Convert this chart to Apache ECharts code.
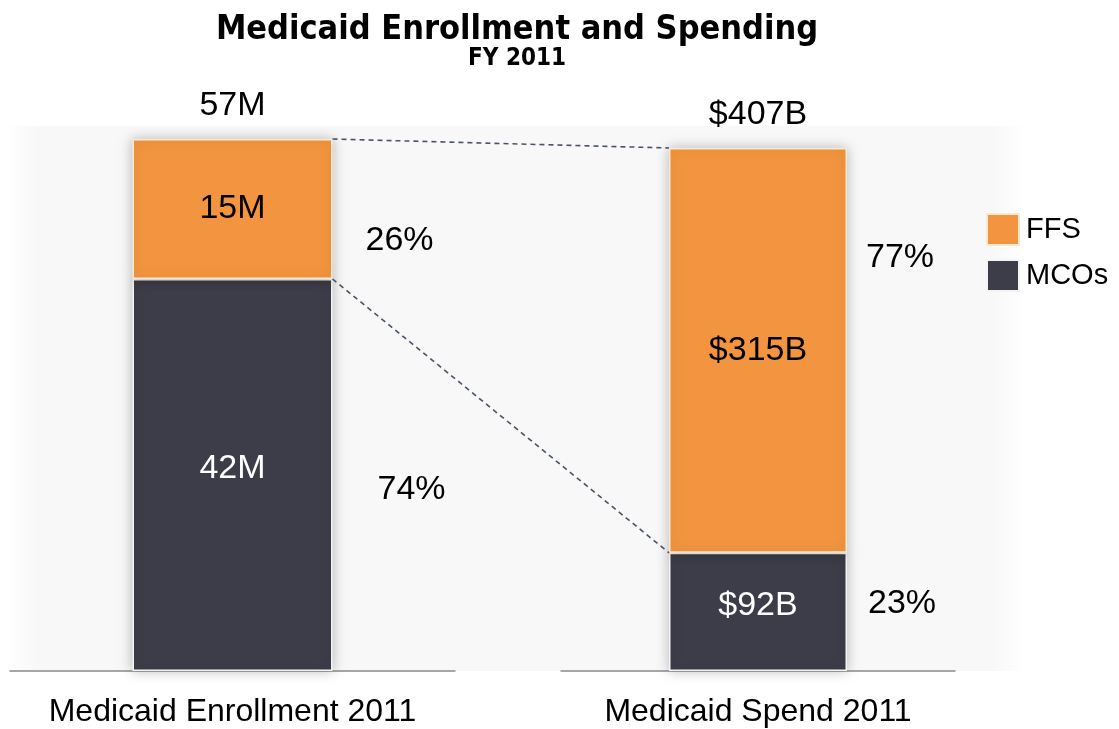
<!DOCTYPE html>
<html>
<head>
<meta charset="utf-8">
<title>Medicaid Enrollment and Spending</title>
<script src="https://cdn.jsdelivr.net/npm/echarts@6/dist/echarts.min.js"></script>
<style>
  html, body { margin: 0; padding: 0; background: #ffffff; }
  #chart { width: 1119px; height: 729px; }
</style>
</head>
<body>
<div id="chart"></div>
<script>
// Medicaid, FY 2011: enrollment (millions) and spending (billions of dollars)
const categories = ['Medicaid Enrollment 2011', 'Medicaid Spend 2011'];
const ffsValues = [15, 315];   // fee-for-service
const mcoValues = [42, 92];    // managed care organisations
const totals = [57, 407];

const seriesNames = ['FFS', 'MCOs'];
const colors = { FFS: '#f39540', MCOs: '#3d3d49' };

// value formatting per panel
const fmt = [v => v + 'M', v => '$' + v + 'B'];
const pct = (v, t) => Math.round(v / t * 100) + '%';

const FONT = '"Liberation Sans", Arial, Helvetica, sans-serif';
const TITLE_FONT = '"Liberation Sans Narrow", "Arial Narrow", "DejaVu Sans Condensed", sans-serif';
const barWidths = [200, 178];
// pixel nudges for the percentage captions beside each segment [FFS, MCOs]
const pctOffsets = [
  [[167, 32], [179, 15]],
  [[142, -93], [144, -8]]
];

const chart = echarts.init(document.getElementById('chart'), null, { renderer: 'canvas' });

const grids = [
  { left: 10, width: 445, top: 139, bottom: 58 },
  { left: 561, width: 394, top: 148, bottom: 58 }
];

const xAxes = categories.map((c, i) => ({
  type: 'category',
  gridIndex: i,
  data: [c],
  axisLine: { show: true, lineStyle: { color: '#8a8a8a', width: 1.5 } },
  axisTick: { show: false },
  axisLabel: { color: '#000', fontFamily: FONT, fontSize: 32, margin: 25 }
}));

const yAxes = categories.map((c, i) => ({
  type: 'value',
  gridIndex: i,
  min: 0,
  max: totals[i],
  show: false,
  splitLine: { show: false }
}));

function pctLabel(i, k, coordVal, text) {
  return {
    coord: [categories[i], coordVal],
    value: text,
    symbol: 'rect',
    symbolSize: 1,
    itemStyle: { color: 'rgba(0,0,0,0)' },
    label: {
      show: true,
      position: 'inside',
      formatter: text,
      color: '#000',
      fontFamily: FONT,
      fontSize: 34,
      offset: pctOffsets[i][k]
    }
  };
}

const series = [];
categories.forEach((c, i) => {
  const ffs = ffsValues[i], mco = mcoValues[i], tot = totals[i];
  const common = {
    type: 'bar',
    xAxisIndex: i,
    yAxisIndex: i,
    stack: 'total' + i,
    barWidth: barWidths[i],
    animation: false
  };
  // managed care segment (bottom)
  series.push(Object.assign({}, common, {
    name: 'MCOs',
    data: [mco],
    itemStyle: {
      color: colors.MCOs,
      borderColor: '#f4f4f4',
      borderWidth: 1.5,
      shadowBlur: 12,
      shadowColor: 'rgba(0,0,0,0.25)'
    },
    label: {
      show: true,
      position: 'inside',
      formatter: p => fmt[i](p.value),
      color: '#ffffff',
      fontFamily: FONT,
      fontSize: 34,
      offset: [0, -6]
    },
    markPoint: {
      silent: true,
      data: [pctLabel(i, 1, mco / 2, pct(mco, tot))]
    }
  }));
  // fee-for-service segment (top)
  series.push(Object.assign({}, common, {
    name: 'FFS',
    data: [ffs],
    itemStyle: {
      color: colors.FFS,
      borderColor: '#fbe8cf',
      borderWidth: 1.5,
      shadowBlur: 12,
      shadowColor: 'rgba(0,0,0,0.25)'
    },
    label: {
      show: true,
      position: 'inside',
      formatter: p => fmt[i](p.value),
      color: '#000000',
      fontFamily: FONT,
      fontSize: 34
    },
    markPoint: {
      silent: true,
      data: [
        pctLabel(i, 0, mco + ffs / 2, pct(ffs, tot)),
        {
          coord: [c, tot],
          symbol: 'rect',
          symbolSize: 1,
          itemStyle: { color: 'rgba(0,0,0,0)' },
          label: {
            show: true,
            position: 'top',
            distance: 16,
            formatter: fmt[i](tot),
            color: '#000',
            fontFamily: FONT,
            fontSize: 34
          }
        }
      ]
    }
  }));
});

// soft light-grey backdrop behind the plot
const backdrop = {
  type: 'rect', z: -1, silent: true,
  shape: { x: 6, y: 126, width: 1018, height: 545 },
  style: {
    fill: {
      type: 'linear', x: 0, y: 0, x2: 1, y2: 0,
      colorStops: [
        { offset: 0, color: '#ffffff' },
        { offset: 0.03, color: '#f8f8f8' },
        { offset: 0.97, color: '#f8f8f8' },
        { offset: 1, color: '#ffffff' }
      ]
    }
  }
};

const option = {
  backgroundColor: '#ffffff',
  animation: false,
  title: [
    {
      text: 'Medicaid Enrollment and Spending',
      left: 512,
      textAlign: 'center',
      top: 8,
      textStyle: { fontFamily: TITLE_FONT, fontWeight: 'bold', fontSize: 34, color: '#000' }
    },
    {
      text: 'FY 2011',
      left: 512,
      textAlign: 'center',
      top: 42,
      textStyle: { fontFamily: TITLE_FONT, fontWeight: 'bold', fontSize: 24, color: '#000' }
    }
  ],
  legend: {
    data: seriesNames,
    orient: 'vertical',
    left: 981,
    top: 208,
    itemWidth: 32,
    itemHeight: 31,
    itemGap: 13,
    icon: 'rect',
    textStyle: { fontFamily: FONT, fontSize: 29, color: '#000', padding: [0, 0, 0, 2] },
    selectedMode: false
  },
  graphic: [backdrop],
  grid: grids,
  xAxis: xAxes,
  yAxis: yAxes,
  series: series
};

chart.setOption(option);

// dashed connectors from the enrollment bar to the spending bar
function edge(i, value, side) {
  const p = chart.convertToPixel({ xAxisIndex: i, yAxisIndex: i }, [categories[i], value]);
  return [p[0] + side * barWidths[i] / 2, p[1]];
}
const topA = edge(0, totals[0], 1), topB = edge(1, totals[1], -1);
const midA = edge(0, mcoValues[0], 1), midB = edge(1, mcoValues[1], -1);
const dashStyle = { stroke: '#4a5366', lineWidth: 1.6, lineDash: [5, 4] };
chart.setOption({
  graphic: [
    backdrop,
    { type: 'line', z: 100, silent: true,
      shape: { x1: topA[0], y1: topA[1], x2: topB[0], y2: topB[1] }, style: dashStyle },
    { type: 'line', z: 100, silent: true,
      shape: { x1: midA[0], y1: midA[1], x2: midB[0], y2: midB[1] }, style: dashStyle }
  ]
});
</script>
</body>
</html>
